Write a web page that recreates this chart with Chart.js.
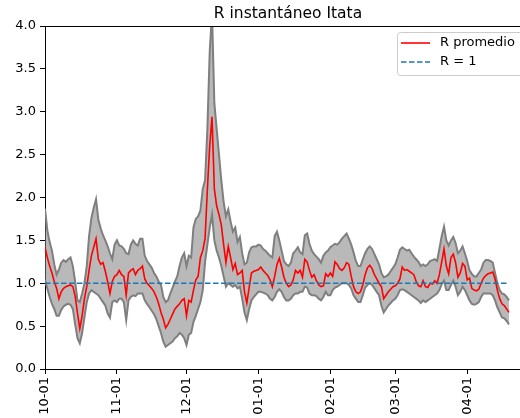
<!DOCTYPE html>
<html>
<head>
<meta charset="utf-8">
<script src="https://cdn.jsdelivr.net/npm/chart.js@4.4.1/dist/chart.umd.min.js"></script>
<style>
  html, body { margin: 0; padding: 0; background: #fff; overflow: hidden; }
  #wrap { width: 536px; height: 418px; }
</style>
</head>
<body>
<div id="wrap"><canvas id="rChart" width="536" height="418"></canvas></div>
<script>
// ── R instantáneo Itata ──
// one value per day, starting 10-01 (day 0) up to 04-19 (day 200)
const TITLE = 'R instantáneo Itata';

const R_MEAN = [
  1.42, 1.30, 1.20, 1.12, 1.02, 0.94, 0.82, 0.90, 0.94, 0.96,
  0.97, 0.98, 0.96, 0.85, 0.65, 0.47, 0.62, 0.82, 0.96, 1.15,
  1.32, 1.42, 1.52, 1.28, 1.22, 1.24, 1.14, 1.02, 0.88, 1.02,
  1.08, 1.10, 1.15, 1.10, 1.08, 0.86, 1.12, 1.15, 1.17, 1.10,
  1.15, 1.17, 1.20, 1.05, 1.00, 0.97, 0.94, 0.90, 0.84, 0.76,
  0.66, 0.58, 0.48, 0.52, 0.58, 0.64, 0.70, 0.73, 0.76, 0.80,
  0.82, 0.62, 0.80, 0.78, 0.92, 1.04, 1.08, 1.30, 1.38, 1.52,
  2.10, 2.60, 2.94, 2.10, 1.90, 1.80, 1.68, 1.45, 1.24, 1.43,
  1.30, 1.16, 1.23, 1.10, 1.12, 1.15, 0.90, 0.77, 0.95, 1.12,
  1.14, 1.15, 1.16, 1.19, 1.15, 1.12, 1.09, 1.04, 0.96, 1.08,
  1.22, 1.29, 1.19, 1.07, 1.00, 0.96, 0.98, 1.04, 1.15, 1.12,
  1.15, 1.07, 1.28, 1.25, 1.15, 1.07, 1.10, 1.03, 0.98, 0.96,
  0.97, 1.11, 1.08, 1.12, 1.08, 1.25, 1.22, 1.17, 1.15, 1.18,
  1.24, 1.22, 1.08, 0.96, 0.90, 0.88, 0.90, 0.98, 1.10, 1.18,
  1.21, 1.17, 1.10, 1.05, 1.00, 0.96, 0.82, 0.86, 0.90, 0.93,
  0.96, 0.97, 1.00, 1.05, 1.19, 1.15, 1.16, 1.14, 1.12, 1.10,
  1.02, 0.97, 0.96, 1.03, 0.96, 0.95, 1.00, 0.99, 1.03, 1.00,
  1.10, 1.25, 1.40, 1.20, 1.11, 1.30, 1.34, 1.24, 1.07, 1.12,
  1.23, 1.20, 1.04, 1.06, 0.94, 0.92, 0.91, 0.93, 1.00, 1.06,
  1.09, 1.11, 1.12, 1.13, 1.05, 0.92, 0.82, 0.76, 0.74, 0.70,
  0.66
];

const R_UPPER = [
  1.87, 1.62, 1.48, 1.38, 1.22, 1.10, 1.16, 1.24, 1.27, 1.25,
  1.28, 1.30, 1.20, 1.02, 0.80, 0.78, 0.88, 1.00, 1.20, 1.55,
  1.76, 1.88, 1.98, 1.74, 1.64, 1.56, 1.50, 1.43, 1.35, 1.28,
  1.45, 1.50, 1.44, 1.43, 1.40, 1.35, 1.34, 1.45, 1.50, 1.46,
  1.44, 1.52, 1.52, 1.32, 1.26, 1.22, 1.18, 1.12, 1.08, 1.02,
  0.98, 0.84, 0.78, 0.80, 0.88, 0.95, 1.02, 1.08, 1.20, 1.30,
  1.35, 1.20, 1.32, 1.30, 1.65, 1.75, 1.78, 1.85, 2.10, 2.20,
  2.80, 3.70, 4.15, 3.10, 2.80, 2.50, 2.20, 1.95, 1.78, 1.86,
  1.72, 1.60, 1.65, 1.48, 1.54, 1.35, 1.22, 1.24, 1.36, 1.42,
  1.43, 1.43, 1.45, 1.44, 1.40, 1.38, 1.35, 1.32, 1.30, 1.55,
  1.60, 1.50, 1.38, 1.26, 1.22, 1.20, 1.24, 1.35, 1.38, 1.42,
  1.36, 1.34, 1.56, 1.58, 1.46, 1.38, 1.34, 1.31, 1.28, 1.24,
  1.32, 1.36, 1.38, 1.42, 1.44, 1.46, 1.45, 1.48, 1.52, 1.55,
  1.58, 1.52, 1.45, 1.36, 1.26, 1.20, 1.20, 1.28, 1.35, 1.40,
  1.43, 1.40, 1.34, 1.28, 1.22, 1.12, 1.07, 1.08, 1.10, 1.14,
  1.18, 1.22, 1.30, 1.39, 1.42, 1.40, 1.38, 1.39, 1.35, 1.31,
  1.28, 1.25, 1.20, 1.22, 1.20, 1.22, 1.26, 1.27, 1.28, 1.26,
  1.40, 1.55, 1.66, 1.50, 1.44, 1.50, 1.54, 1.47, 1.35, 1.38,
  1.43, 1.35, 1.26, 1.15, 1.11, 1.08, 1.08, 1.12, 1.16, 1.24,
  1.27, 1.27, 1.26, 1.24, 1.12, 1.00, 0.92, 0.88, 0.87, 0.84,
  0.80
];

const R_LOWER = [
  1.04, 0.94, 0.84, 0.76, 0.70, 0.62, 0.62, 0.69, 0.73, 0.75,
  0.76, 0.75, 0.70, 0.52, 0.36, 0.30, 0.42, 0.60, 0.78, 0.88,
  0.92, 0.90, 0.88, 0.86, 0.82, 0.78, 0.74, 0.65, 0.60, 0.78,
  0.80, 0.78, 0.82, 0.82, 0.78, 0.57, 0.80, 0.84, 0.86, 0.85,
  0.88, 0.88, 0.88, 0.80, 0.76, 0.72, 0.68, 0.64, 0.58, 0.50,
  0.42, 0.32, 0.26, 0.28, 0.30, 0.32, 0.36, 0.38, 0.42, 0.40,
  0.36, 0.28, 0.40, 0.42, 0.55, 0.62, 0.70, 0.78, 0.92, 1.25,
  1.45, 1.65, 1.80, 1.50, 1.38, 1.30, 1.20, 1.08, 0.96, 1.00,
  0.98, 0.96, 0.98, 0.94, 0.96, 0.82, 0.66, 0.57, 0.70, 0.80,
  0.84, 0.87, 0.90, 0.90, 0.89, 0.88, 0.86, 0.82, 0.80, 0.84,
  0.90, 0.93, 0.90, 0.84, 0.80, 0.80, 0.82, 0.86, 0.88, 0.88,
  0.90, 0.90, 0.96, 0.95, 0.88, 0.86, 0.86, 0.85, 0.82, 0.80,
  0.84, 0.90, 0.86, 0.86, 0.92, 0.95, 0.96, 0.98, 1.00, 1.00,
  1.00, 0.98, 0.94, 0.86, 0.82, 0.78, 0.78, 0.86, 0.95, 0.98,
  1.00, 0.98, 0.94, 0.90, 0.86, 0.74, 0.66, 0.70, 0.74, 0.77,
  0.80, 0.82, 0.86, 0.92, 0.93, 0.92, 0.90, 0.88, 0.86, 0.84,
  0.82, 0.80, 0.77, 0.80, 0.78, 0.80, 0.82, 0.84, 0.86, 0.88,
  0.92, 0.99, 1.03, 0.92, 0.92, 0.98, 1.03, 0.96, 0.86, 0.90,
  0.96, 0.92, 0.86, 0.80, 0.76, 0.75, 0.76, 0.78, 0.84, 0.88,
  0.88, 0.88, 0.88, 0.86, 0.80, 0.72, 0.66, 0.60, 0.59, 0.56,
  0.52
];

const R_ONE = 1;

// month ticks (day offset from 10-01) and their labels
const TICK_DAYS = [0, 31, 61, 92, 123, 151, 182];
const TICK_LABELS = ['10-01', '11-01', '12-01', '01-01', '02-01', '03-01', '04-01'];
const Y_TICKS = [0, 0.5, 1, 1.5, 2, 2.5, 3, 3.5, 4];

const FONT = "'DejaVu Sans', sans-serif";

const toPoints = arr => arr.map((y, i) => ({ x: i, y }));
const lastDay = R_MEAN.length - 1;

// title, top/right frame and legend drawn by hand (matplotlib style)
const framePlugin = {
  id: 'frame',
  afterDraw(chart) {
    const { ctx, chartArea: a } = chart;
    ctx.save();
    ctx.strokeStyle = '#000';
    ctx.lineWidth = 1;
    ctx.beginPath();
    ctx.moveTo(a.left, a.top + 0.5);
    ctx.lineTo(a.right, a.top + 0.5);
    ctx.lineTo(a.right, a.bottom);
    ctx.stroke();

    ctx.fillStyle = '#000';
    ctx.font = '15.5px ' + FONT;
    ctx.textAlign = 'center';
    ctx.textBaseline = 'alphabetic';
    ctx.fillText(TITLE, (a.left + a.right) / 2, a.top - 8);

    // legend
    const lx = a.right - 134, ly = a.top + 6, lw = 140, lh = 43;
    ctx.fillStyle = 'rgba(255,255,255,0.8)';
    ctx.strokeStyle = '#cccccc';
    ctx.beginPath();
    ctx.roundRect(lx + 0.5, ly + 0.5, lw, lh, 3);
    ctx.fill();
    ctx.stroke();

    ctx.lineWidth = 1.6;
    ctx.strokeStyle = '#ff0000';
    ctx.beginPath();
    ctx.moveTo(lx + 4, ly + 11);
    ctx.lineTo(lx + 33, ly + 11);
    ctx.stroke();

    ctx.strokeStyle = '#1f77b4';
    ctx.setLineDash([5.5, 2.5]);
    ctx.beginPath();
    ctx.moveTo(lx + 4, ly + 30);
    ctx.lineTo(lx + 33, ly + 30);
    ctx.stroke();
    ctx.setLineDash([]);

    ctx.fillStyle = '#000';
    ctx.font = '13px ' + FONT;
    ctx.textAlign = 'left';
    ctx.textBaseline = 'middle';
    ctx.fillText('R promedio', lx + 43, ly + 11);
    ctx.fillText('R = 1', lx + 43, ly + 30);
    ctx.restore();
  }
};

const ctx = document.getElementById('rChart').getContext('2d');
new Chart(ctx, {
  type: 'line',
  data: {
    datasets: [
      {
        label: 'R = 1',
        data: [{ x: 0, y: R_ONE }, { x: lastDay, y: R_ONE }],
        borderColor: '#1f77b4',
        borderWidth: 1.6,
        borderDash: [5.5, 2.5],
        pointRadius: 0,
        fill: false,
        order: 0
      },
      {
        label: 'R promedio',
        data: toPoints(R_MEAN),
        borderColor: '#ff0000',
        borderWidth: 1.6,
        pointRadius: 0,
        fill: false,
        order: 1
      },
      {
        label: 'upper',
        data: toPoints(R_UPPER),
        borderColor: '#7f7f7f',
        borderWidth: 2,
        pointRadius: 0,
        backgroundColor: 'rgba(128,128,128,0.55)',
        fill: '+1',
        order: 2
      },
      {
        label: 'lower',
        data: toPoints(R_LOWER),
        borderColor: '#7f7f7f',
        borderWidth: 2,
        pointRadius: 0,
        fill: false,
        order: 3
      }
    ]
  },
  options: {
    responsive: false,
    animation: false,
    layout: { padding: { top: 26, right: 5, left: 0, bottom: 0 } },
    elements: { line: { tension: 0 } },
    scales: {
      x: {
        type: 'linear',
        min: 0,
        max: 209.5,
        afterBuildTicks: s => { s.ticks = TICK_DAYS.map(v => ({ value: v })); },
        afterFit: s => { s.height = 49; },
        ticks: {
          autoSkip: false,
          maxRotation: 90,
          minRotation: 90,
          padding: 3,
          color: '#000',
          font: { family: FONT, size: 13 },
          callback: (v, i) => TICK_LABELS[i]
        },
        grid: { drawOnChartArea: false, drawTicks: true, tickLength: 5, color: '#000' },
        border: { color: '#000', width: 1 }
      },
      y: {
        min: 0,
        max: 4,
        afterBuildTicks: s => { s.ticks = Y_TICKS.map(v => ({ value: v })); },
        afterFit: s => { s.width = 45; },
        ticks: {
          padding: 4,
          color: '#000',
          font: { family: FONT, size: 13 },
          callback: v => v.toFixed(1)
        },
        grid: { drawOnChartArea: false, drawTicks: true, tickLength: 5, color: '#000' },
        border: { color: '#000', width: 1 }
      }
    },
    plugins: {
      legend: { display: false },
      title: { display: false },
      tooltip: { enabled: false }
    }
  },
  plugins: [framePlugin]
});
</script>
</body>
</html>
